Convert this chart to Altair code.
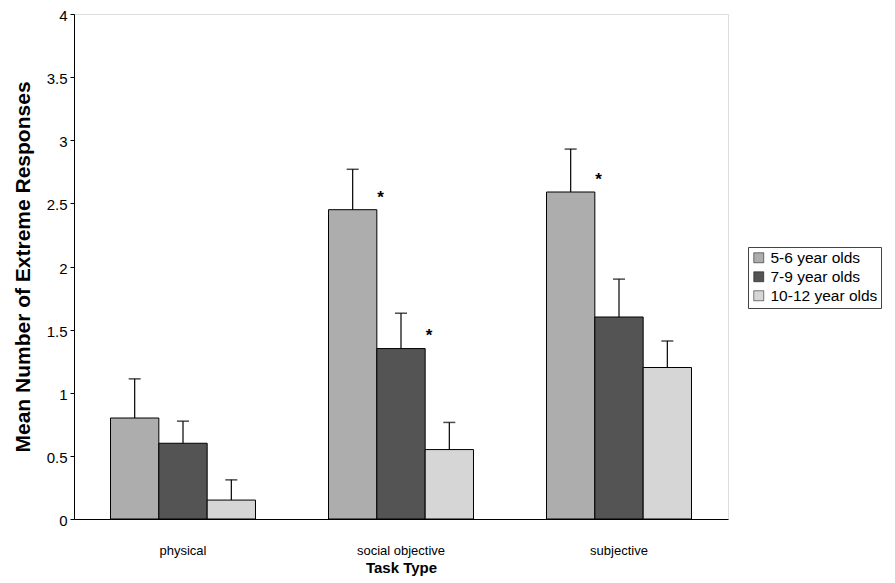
import altair as alt
import pandas as pd

categories = ["physical", "social objective", "subjective"]
groups = ["5-6 year olds", "7-9 year olds", "10-12 year olds"]
means_5_6 = [0.80, 2.45, 2.59]
means_7_9 = [0.60, 1.35, 1.60]
means_10_12 = [0.15, 0.55, 1.20]
upper_5_6 = [1.11, 2.77, 2.93]
upper_7_9 = [0.775, 1.63, 1.90]
upper_10_12 = [0.31, 0.765, 1.41]
# significance markers: (category, group, y position)
star_cats = ["social objective", "social objective", "subjective"]
star_groups = ["5-6 year olds", "7-9 year olds", "5-6 year olds"]
star_y = [2.59, 1.50, 2.735]
fills = ["#adadad", "#545454", "#d6d6d6"]

rows = []
for g, m, u in zip(groups, [means_5_6, means_7_9, means_10_12], [upper_5_6, upper_7_9, upper_10_12]):
    for c, mv, uv in zip(categories, m, u):
        rows.append({"cat": c, "grp": g, "mean": mv, "upper": uv})
df = pd.DataFrame(rows)
stars = pd.DataFrame({"cat": star_cats, "grp": star_groups, "y": star_y, "t": ["*"] * 3})

FONT = "Liberation Sans"
xenc = alt.X("cat:N", sort=categories,
             scale=alt.Scale(paddingInner=0.335, paddingOuter=0.1675),
             axis=alt.Axis(title="Task Type", labelAngle=0, ticks=False, labelPadding=25,
                           labelFontSize=13, titleFontSize=15, titleFontWeight="bold",
                           titlePadding=3, domainColor="black", labelColor="black",
                           titleColor="black", labelFont=FONT, titleFont=FONT))
xoff = alt.XOffset("grp:N", sort=groups, scale=alt.Scale(paddingInner=0, paddingOuter=0))
yscale = alt.Scale(domain=[0, 4], nice=False)

bars = alt.Chart(df).mark_bar(stroke="black", strokeWidth=1).encode(
    x=xenc, xOffset=xoff,
    y=alt.Y("mean:Q", scale=yscale,
            axis=alt.Axis(title="Mean Number of Extreme Responses", values=[0, 0.5, 1, 1.5, 2, 2.5, 3, 3.5, 4],
                          grid=False, tickSize=4, tickColor="black", domainColor="black",
                          labelFontSize=15, titleFontSize=21, titleFontWeight="bold",
                          labelPadding=3, titlePadding=13, labelColor="black", titleColor="black",
                          labelOffset=1.5,
                          labelFont=FONT, titleFont=FONT, format="~g")),
    fill=alt.Fill("grp:N", sort=groups, scale=alt.Scale(domain=groups, range=fills),
                  legend=alt.Legend(title=None, orient="none", legendX=674, legendY=233,
                                    symbolType="square", symbolSize=100, symbolStrokeColor="black",
                                    symbolStrokeWidth=0.5, labelFontSize=15.5, labelFont=FONT,
                                    labelColor="black", rowPadding=2, padding=3, labelOffset=4,
                                    strokeColor="#444", fillColor="white", labelLimit=300)),
)

err = alt.Chart(df).mark_rule(color="black", strokeWidth=1.2).encode(
    x=alt.X("cat:N", sort=categories), xOffset=xoff,
    y="mean:Q", y2="upper:Q")
caps = alt.Chart(df).mark_tick(color="black", thickness=1.5, size=12, orient="horizontal").encode(
    x=alt.X("cat:N", sort=categories), xOffset=xoff, y="upper:Q")
star = alt.Chart(stars).mark_text(fontSize=17, font=FONT, color="black", dx=28, dy=6, fontWeight="bold").encode(
    x=alt.X("cat:N", sort=categories), xOffset=alt.XOffset("grp:N", sort=groups),
    y="y:Q", text="t:N")

chart = alt.layer(bars, err, caps, star).properties(
    width=654, height=505,
    autosize=alt.AutoSizeParams(type="none"),
    padding={"left": 66, "top": 6, "right": 159, "bottom": 58},
).configure_view(stroke="black", strokeWidth=1).configure(background="white")

chart.save("out.html", embed_options={"renderer": "svg", "actions": False})
